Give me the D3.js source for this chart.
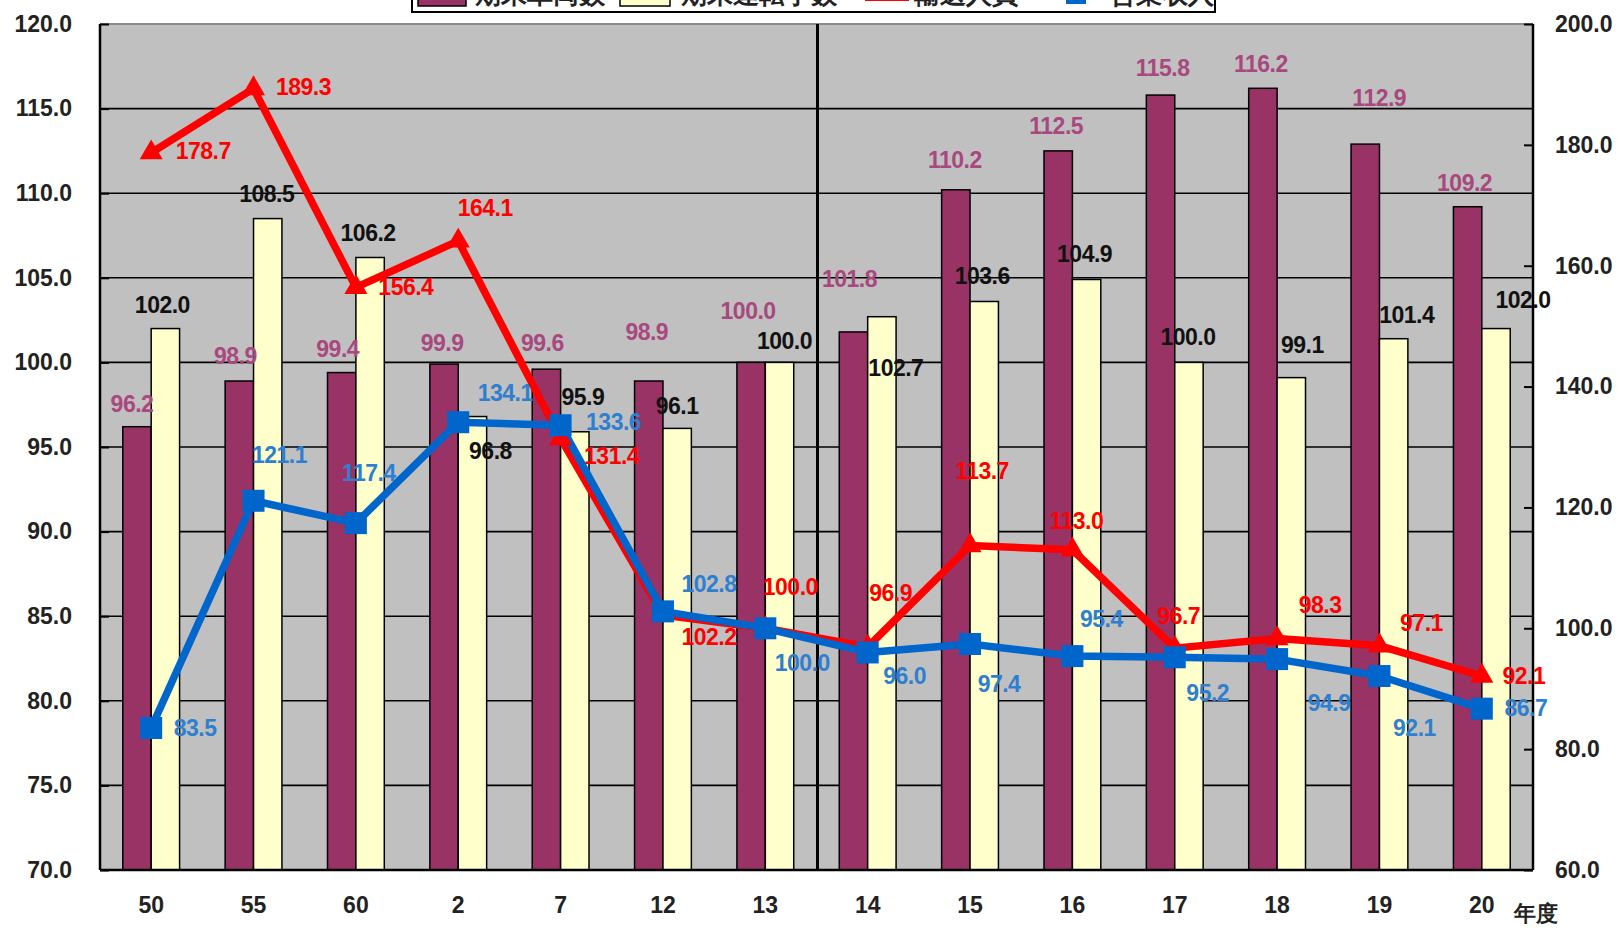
<!DOCTYPE html>
<html><head><meta charset="utf-8">
<script src="https://cdn.jsdelivr.net/npm/d3@7"></script>
<style>
html,body{margin:0;padding:0;background:#fff;}
svg{display:block;}
text{font-family:"Liberation Sans",Arial,sans-serif;}
</style></head>
<body>
<svg id="chart" width="1619" height="929"></svg>
<script>
// ---- data ----
const categories = ["50","55","60","2","7","12","13","14","15","16","17","18","19","20"];
const vehicles   = [96.2,98.9,99.4,99.9,99.6,98.9,100.0,101.8,110.2,112.5,115.8,116.2,112.9,109.2];
const drivers    = [102.0,108.5,106.2,96.8,95.9,96.1,100.0,102.7,103.6,104.9,100.0,99.1,101.4,102.0];
const passengers = [178.7,189.3,156.4,164.1,131.4,102.2,100.0,96.9,113.7,113.0,96.7,98.3,97.1,92.1];
const revenue    = [83.5,121.1,117.4,134.1,133.6,102.8,100.0,96.0,97.4,95.4,95.2,94.9,92.1,86.7];
const leftTicks  = [70,75,80,85,90,95,100,105,110,115,120];
const rightTicks = [60,80,100,120,140,160,180,200];
const seriesNames = ["期末車両数","期末運転手数","輸送人員","営業収入"];
const unitLabel = "年度";

// ---- label nudges (layout) ----
const vehLabelOff = [[-5,-23],[-4,-25],[-4,-24],[-2,-21],[-4,-26],[-2,-49],[-3,-51],[-4,-53],[-1,-30],[-2,-25],[2,-27],[-2,-24],[14,-46],[-3,-24]];
const drvLabelOff = [[-3,-24],[-1,-25],[-2,-24],[18,34],[8,-35],[0,-22],[5,-21],[14,51],[-2,-25],[-2,-25],[-1,-25],[11,-33],[13,-24],[27,-29]];
const pasLabelOff = [[52,-2],[50,-2],[50,0],[27,-33],[51,17],[46,22],[25,-41],[23,-54],[12,-74],[4,-29],[4,-32],[43,-34],[42,-23],[42,0]];
const revLabelOff = [[44,0],[26,-46],[13,-50],[47,-29],[53,-3],[46,-27],[37,35],[37,24],[29,40],[29,-37],[33,36],[52,44],[35,52],[44,-1]];

const C = {purple:"#993366", purpleText:"#a8487e", yellow:"#FFFFCC", red:"#FF0000", blue:"#0066CC", blueText:"#2f7fd0", bg:"#C0C0C0"};

const L = 100, R = 1533, T = 24, B = 870;
const svg = d3.select("#chart");
const x = d3.scaleBand().domain(categories).range([L, R]).padding(0);
const yL = d3.scaleLinear().domain([70,120]).range([B, T]);
const yR = d3.scaleLinear().domain([60,200]).range([B, T]);
const bw = 28.4;
const cx = i => x(categories[i]) + x.bandwidth()/2;

// plot background
svg.append("rect").attr("x",L).attr("y",T).attr("width",R-L).attr("height",B-T).attr("fill",C.bg);
svg.append("line").attr("x1",L).attr("x2",R).attr("y1",T).attr("y2",T).attr("stroke","#8a8a8a").attr("stroke-width",2);

// gridlines
svg.append("g").selectAll("line").data(leftTicks.filter(d=>d>70&&d<120)).join("line")
  .attr("x1",L).attr("x2",R).attr("y1",d=>yL(d)).attr("y2",d=>yL(d))
  .attr("stroke","#000").attr("stroke-width",1.6);

// separator
const sepX = x(categories[7]) + 1;
svg.append("line").attr("x1",sepX).attr("x2",sepX).attr("y1",T).attr("y2",B).attr("stroke","#000").attr("stroke-width",3);

// bars
svg.append("g").selectAll("rect").data(vehicles).join("rect")
  .attr("x",(d,i)=>cx(i)-bw).attr("width",bw)
  .attr("y",d=>yL(d)).attr("height",d=>B-yL(d))
  .attr("fill",C.purple).attr("stroke","#000").attr("stroke-width",1.5);
svg.append("g").selectAll("rect").data(drivers).join("rect")
  .attr("x",(d,i)=>cx(i)).attr("width",bw)
  .attr("y",d=>yL(d)).attr("height",d=>B-yL(d))
  .attr("fill",C.yellow).attr("stroke","#000").attr("stroke-width",1.5);

// frame
svg.append("line").attr("x1",L).attr("x2",L).attr("y1",T).attr("y2",B).attr("stroke","#000").attr("stroke-width",2.5);
svg.append("line").attr("x1",R).attr("x2",R).attr("y1",T).attr("y2",B).attr("stroke","#000").attr("stroke-width",2.5);
svg.append("line").attr("x1",L).attr("x2",R).attr("y1",B).attr("y2",B).attr("stroke","#000").attr("stroke-width",2.5);

// axes
const fmt = d3.format(".1f");
const axL = svg.append("g").attr("transform",`translate(${L},0)`)
  .call(d3.axisLeft(yL).tickValues(leftTicks).tickFormat(fmt).tickSizeInner(-9).tickSizeOuter(0).tickPadding(28));
const axR = svg.append("g").attr("transform",`translate(${R},0)`)
  .call(d3.axisRight(yR).tickValues(rightTicks).tickFormat(fmt).tickSizeInner(-9).tickSizeOuter(0).tickPadding(22));
const axB = svg.append("g").attr("transform",`translate(0,${B})`)
  .call(d3.axisBottom(x).tickSize(0).tickPadding(27));
[axL,axR,axB].forEach(a=>{
  a.select(".domain").remove();
  a.selectAll(".tick line").attr("stroke","#000").attr("stroke-width",2);
  a.selectAll("text").attr("font-size",23).attr("font-weight","bold").attr("fill","#222");
});

// lines
const lineGen = yS => d3.line().x((d,i)=>cx(i)).y(d=>yS(d));
svg.append("path").datum(passengers).attr("d",lineGen(yR)).attr("fill","none")
  .attr("stroke",C.red).attr("stroke-width",7.5).attr("stroke-linejoin","miter");
svg.append("path").datum(revenue).attr("d",lineGen(yR)).attr("fill","none")
  .attr("stroke",C.blue).attr("stroke-width",7.5).attr("stroke-linejoin","round");
svg.append("g").selectAll("path").data(passengers).join("path")
  .attr("d",d3.symbol(d3.symbolTriangle, 230)())
  .attr("transform",(d,i)=>`translate(${cx(i)},${yR(d)})`).attr("fill",C.red);
svg.append("g").selectAll("rect").data(revenue).join("rect")
  .attr("x",(d,i)=>cx(i)-11).attr("y",d=>yR(d)-11).attr("width",22).attr("height",22).attr("fill",C.blue);

// data labels
function labels(data, off, xf, yf, color){
  svg.append("g").selectAll("text").data(data).join("text")
    .attr("x",(d,i)=>xf(i)+off[i][0]).attr("y",(d,i)=>yf(d)+off[i][1])
    .attr("text-anchor","middle").attr("dominant-baseline","central")
    .attr("font-size",23).attr("font-weight","bold").attr("fill",color)
    .attr("letter-spacing","-0.5")
    .text(d=>fmt(d));
}
labels(vehicles, vehLabelOff, i=>cx(i)-bw/2, yL, C.purpleText);
labels(drivers, drvLabelOff, i=>cx(i)+bw/2, yL, "#111");
labels(passengers, pasLabelOff, cx, yR, C.red);
labels(revenue, revLabelOff, cx, yR, C.blueText);

// unit
svg.append("text").attr("x",1514).attr("y",921).attr("font-size",22).attr("font-weight","bold")
  .attr("font-family","'Noto Sans CJK JP',sans-serif").attr("fill","#222").text(unitLabel);

// legend (cut off at top, as in the reference)
const lg = svg.append("g");
lg.append("rect").attr("x",412).attr("y",-40).attr("width",803).attr("height",52)
  .attr("fill","#fff").attr("stroke","#000").attr("stroke-width",2);
const legX = [418,620,873,1066];
const legTX = [475,681,914,1110];
lg.append("rect").attr("x",legX[0]).attr("y",-20).attr("width",48).attr("height",26).attr("fill",C.purple).attr("stroke","#000").attr("stroke-width",1.5);
lg.append("rect").attr("x",legX[1]).attr("y",-20).attr("width",50).attr("height",26).attr("fill",C.yellow).attr("stroke","#000").attr("stroke-width",1.5);
lg.append("line").attr("x1",legX[2]-8).attr("x2",legX[2]+36).attr("y1",-2).attr("y2",-2).attr("stroke",C.red).attr("stroke-width",6);
lg.append("rect").attr("x",legX[3]).attr("y",-16).attr("width",20).attr("height",20).attr("fill",C.blue);
lg.append("line").attr("x1",legX[3]-10).attr("x2",legX[3]+30).attr("y1",-6).attr("y2",-6).attr("stroke",C.blue).attr("stroke-width",6);
lg.selectAll("text.leg").data(seriesNames).join("text").attr("class","leg")
  .attr("x",(d,i)=>legTX[i]).attr("y",3)
  .attr("font-family","'Noto Sans CJK JP',sans-serif").attr("font-size",26).attr("font-weight","bold")
  .attr("fill","#222").text(d=>d);
</script>
</body></html>
